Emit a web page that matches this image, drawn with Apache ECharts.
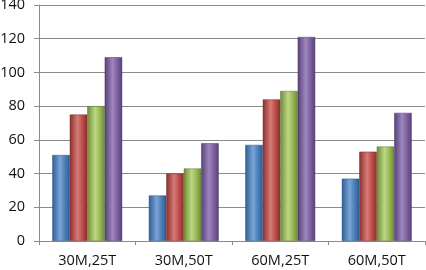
<!DOCTYPE html>
<html>
<head>
<meta charset="utf-8">
<script src="https://cdn.jsdelivr.net/npm/echarts@6/dist/echarts.min.js"></script>
<style>
  html, body { margin: 0; padding: 0; background: #fff; }
  #chart { width: 426px; height: 270px; }
</style>
</head>
<body>
<div id="chart"></div>
<script>
const categories = ['30M,25T', '30M,50T', '60M,25T', '60M,50T'];
const seriesA = [51, 27, 57, 37];
const seriesB = [75, 40, 84, 53];
const seriesC = [80, 43, 89, 56];
const seriesD = [109, 58, 121, 76];
const yTicks = { min: 0, max: 140, interval: 20 };

// excel-ish cylinder shading: dark edges, light middle
function shade(dark, mid, light) {
  return new echarts.graphic.LinearGradient(0, 0, 1, 0, [
    { offset: 0, color: dark },
    { offset: 0.45, color: light },
    { offset: 0.7, color: mid },
    { offset: 1, color: dark },
  ]);
}

const colors = [
  shade('#2f5d94', '#4f81bd', '#7ba4d6'),
  shade('#8c2f2c', '#c0504d', '#d67b78'),
  shade('#6f8a35', '#9bbb59', '#bcd883'),
  shade('#56407a', '#8064a2', '#9e86bd'),
];
const edges = ['#2a4f7e', '#7a2a28', '#5e7530', '#4a3768'];

const chart = echarts.init(document.getElementById('chart'));
const values = [seriesA, seriesB, seriesC, seriesD];

chart.setOption({
  animation: false,
  grid: { left: 39, right: 1, top: 5, bottom: 29, containLabel: false, outerBoundsMode: 'none' },
  xAxis: {
    type: 'category',
    data: categories,
    axisLine: { lineStyle: { color: '#8c8c8c', width: 1 } },
    axisTick: { show: true, length: 4, lineStyle: { color: '#8c8c8c' } },
    axisLabel: { color: '#111', fontSize: 14.5, fontFamily: 'Open Sans', margin: 12 },
  },
  yAxis: {
    type: 'value',
    min: yTicks.min,
    max: yTicks.max,
    interval: yTicks.interval,
    axisLine: { show: true, lineStyle: { color: '#8c8c8c', width: 1 } },
    axisTick: { show: true, length: 5, lineStyle: { color: '#8c8c8c' } },
    axisLabel: { color: '#111', fontSize: 14.5, fontFamily: 'Open Sans', margin: 14 },
    splitLine: { lineStyle: { color: '#8c8c8c', width: 1 } },
  },
  series: values.map((data, i) => ({
    type: 'bar',
    data: data,
    barGap: '0%',
    barCategoryGap: '27.6%',
    itemStyle: { color: colors[i], borderColor: edges[i], borderWidth: 0.5 },
  })),
});
</script>
</body>
</html>
